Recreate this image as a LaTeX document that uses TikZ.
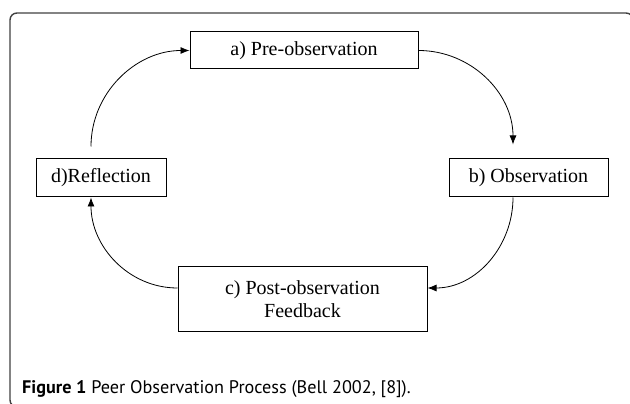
\documentclass[tikz,border=0pt]{standalone}
\usepackage{fontspec}
\setmainfont{Liberation Serif}
\setsansfont{PT Sans}
\usetikzlibrary{arrows.meta}

\begin{document}
\begin{tikzpicture}[
        x=1pt, y=1pt,
        stage/.style={draw, line width=1pt, rectangle, minimum height=37pt, inner sep=0pt, align=center,
            font=\fontsize{20}{23}\selectfont},
        cycle/.style={draw, line width=0.8pt, -{Latex[length=9pt,width=7pt]}}
        ]
    \useasboundingbox (0,0) rectangle (630,404);

    % Outer frame
    \draw[line width=1.4pt, black!75, rounded corners=7pt] (10,-3) rectangle (633,391);

    % Stages
    \node[stage, minimum width=228pt] (pre) at (304,353.5) {a) Pre-observation};
    \node[stage, minimum width=159pt, minimum height=38pt] (obs) at (528.5,226) {b) Observation};
    \node[stage, minimum width=249pt, minimum height=65pt] (post) at (302.5,104.5) {c) Post-observation\\Feedback};
    \node[stage, minimum width=130pt, minimum height=38pt] (refl) at (101,226) {d)Reflection};

    % Cycle arrows
    \draw[cycle] (pre.east) to[out=0, in=90] ([xshift=-15.5pt, yshift=14pt]obs.north);
    \draw[cycle] ([xshift=-15.5pt]obs.south) to[out=-90, in=0] ([yshift=11.5pt]post.east);
    \draw[cycle] ([yshift=11.5pt]post.west) to[out=180, in=-90] ([xshift=-10pt]refl.south);
    \draw[cycle] ([xshift=-10pt, yshift=12pt]refl.north) to[out=90, in=180] (pre.west);

    % Caption
    \node[anchor=base west, inner sep=0pt, font=\sffamily\fontsize{18.2}{21}\selectfont] (caption) at (22,10.5)
        {\textbf{Figure 1} Peer Observation Process (Bell 2002, [8]).};
\end{tikzpicture}
\end{document}
